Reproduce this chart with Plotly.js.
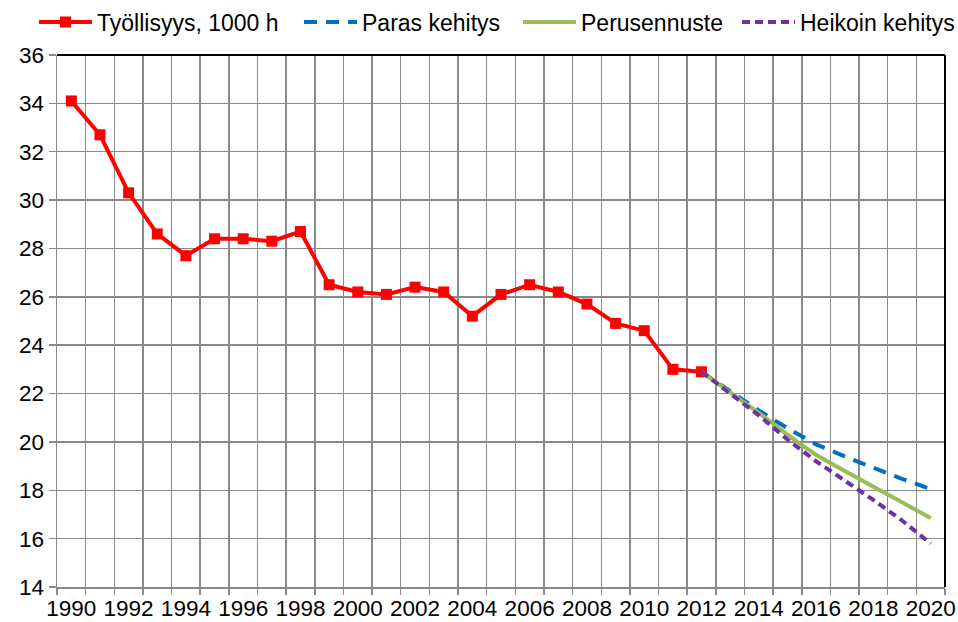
<!DOCTYPE html>
<html>
<head>
<meta charset="utf-8">
<script src="https://cdn.plot.ly/plotly-3.0.1.min.js"></script>
<style>html,body{margin:0;padding:0;background:#fff;}#chart{width:958px;height:622px;}</style>
</head>
<body>
<div id="chart"></div>
<script>
const years = ["1990","1991","1992","1993","1994","1995","1996","1997","1998","1999","2000","2001","2002","2003","2004","2005","2006","2007","2008","2009","2010","2011","2012","2013","2014","2015","2016","2017","2018","2019","2020"];
const tickLabels = ["1990","","1992","","1994","","1996","","1998","","2000","","2002","","2004","","2006","","2008","","2010","","2012","","2014","","2016","","2018","","2020"];
const histYears = ["1990","1991","1992","1993","1994","1995","1996","1997","1998","1999","2000","2001","2002","2003","2004","2005","2006","2007","2008","2009","2010","2011","2012"];
const tyollisyys = [34.1,32.7,30.3,28.6,27.7,28.4,28.4,28.3,28.7,26.5,26.2,26.1,26.4,26.2,25.2,26.1,26.5,26.2,25.7,24.9,24.6,23.0,22.9];
const forecastYears = ["2012","2013","2014","2015","2016","2017","2018","2019","2020"];
const paras = [22.9,22.1,21.3,20.57,19.9,19.4,18.92,18.47,18.05];
const perus = [22.9,22.05,21.2,20.3,19.47,18.8,18.15,17.5,16.85];
const heikoin = [22.9,22.0,21.1,20.1,19.2,18.4,17.6,16.75,15.8];
const names = ["Työllisyys, 1000 h","Paras kehitys","Perusennuste","Heikoin kehitys"];

const traces = [
  {x: histYears, y: tyollisyys, name: names[0], type: 'scatter', mode: 'lines+markers', legend: 'legend',
   line: {color: '#FF0000', width: 4}, marker: {symbol: 'square', size: 11, color: '#FF0000'}},
  {x: forecastYears, y: paras, name: names[1], type: 'scatter', mode: 'lines', legend: 'legend2',
   line: {color: '#0070C0', width: 4, dash: '13px,9px'}},
  {x: forecastYears, y: perus, name: names[2], type: 'scatter', mode: 'lines', legend: 'legend3',
   line: {color: '#9BBB59', width: 4, shape: 'spline', smoothing: 0.6}},
  {x: forecastYears, y: heikoin, name: names[3], type: 'scatter', mode: 'lines', legend: 'legend4',
   line: {color: '#7030A0', width: 4, dash: '8px,5px'}}
];

const font = {family: 'Liberation Sans, Arial, sans-serif', size: 22.5, color: '#000'};
const legendFont = {family: 'Liberation Sans, Arial, sans-serif', size: 23, color: '#000'};
function leg(px) {
  return {orientation: 'h', xref: 'container', yref: 'container',
          x: px / 958, xanchor: 'left', y: 0.9646, yanchor: 'middle',
          font: legendFont, bgcolor: 'rgba(0,0,0,0)', itemwidth: 53};
}
const layout = {
  width: 958, height: 622,
  margin: {l: 57, r: 13, t: 55, b: 35, autoexpand: false},
  paper_bgcolor: '#fff', plot_bgcolor: '#fff',
  font: font,
  showlegend: true,
  legend: leg(34), legend2: leg(299), legend3: leg(518), legend4: leg(737),
  xaxis: {type: 'category', categoryorder: 'array', categoryarray: years,
          tickmode: 'array', tickvals: years, ticktext: tickLabels, tickson: 'boundaries',
          range: [-0.5, 30.5], showgrid: true, gridcolor: '#8a8a8a', gridwidth: 1.5,
          ticks: 'outside', ticklen: 6, tickcolor: '#8a8a8a', tickwidth: 1.5,
          showline: true, linecolor: '#8a8a8a', linewidth: 1.5,
          tickfont: font, tickangle: 0, zeroline: false, fixedrange: true, automargin: false},
  yaxis: {range: [14, 36], tickmode: 'linear', tick0: 14, dtick: 2,
          showgrid: true, gridcolor: '#8a8a8a', gridwidth: 1.5,
          ticks: 'outside', ticklen: 7, tickcolor: '#8a8a8a', tickwidth: 1.5,
          showline: true, linecolor: '#8a8a8a', linewidth: 1.5,
          tickfont: font, zeroline: false, fixedrange: true, automargin: false},
  shapes: [
    {type: 'line', xref: 'paper', yref: 'paper', x0: 0, x1: 1, y0: 1, y1: 1, line: {color: '#000', width: 2}},
    {type: 'line', xref: 'paper', yref: 'paper', x0: 1, x1: 1, y0: 0, y1: 1, line: {color: '#000', width: 2}}
  ]
};
Plotly.newPlot('chart', traces, layout, {displayModeBar: false, staticPlot: true});
</script>
</body>
</html>
